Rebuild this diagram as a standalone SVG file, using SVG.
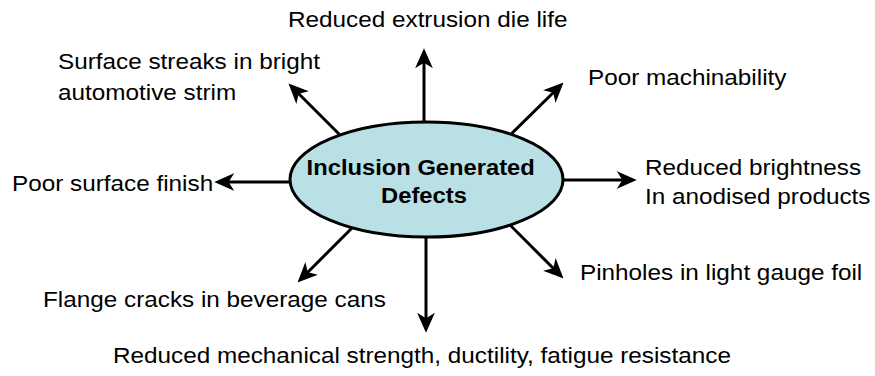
<svg xmlns="http://www.w3.org/2000/svg" width="875" height="376" viewBox="0 0 875 376">
  <style>
    .lbl { font-family: "Liberation Sans", Arial, sans-serif; font-size: 22.5px; fill: #000; }
    .core { font-family: "Liberation Sans", Arial, sans-serif; font-size: 22px; font-weight: bold; fill: #000; text-anchor: middle; }
    .edge { stroke: #000; stroke-width: 3; fill: none; marker-end: url(#head); }
    .hub { fill: #b9e0e5; stroke: #000; stroke-width: 3; }
  </style>
  <defs>
    <marker id="head" markerUnits="userSpaceOnUse" markerWidth="20" markerHeight="18" viewBox="0 0 18 16" refX="11" refY="8" orient="auto">
      <path d="M0,0 L18,8 L0,16 L5,8 z" fill="#000"/>
    </marker>
  </defs>

  <!-- connectors radiating from the central ellipse -->
  <g id="connectors">
    <line class="edge" x1="424" y1="150" x2="424" y2="56"/>
    <line class="edge" x1="426" y1="210" x2="426" y2="325"/>
    <line class="edge" x1="310" y1="182" x2="222" y2="182"/>
    <line class="edge" x1="540" y1="180" x2="629" y2="180"/>
    <line class="edge" x1="500" y1="145" x2="558" y2="88"/>
    <line class="edge" x1="352" y1="147" x2="294" y2="89"/>
    <line class="edge" x1="360" y1="220" x2="303" y2="277"/>
    <line class="edge" x1="500" y1="215" x2="558" y2="273"/>
  </g>

  <g id="hub">
    <ellipse class="hub" cx="426.5" cy="179.5" rx="136.5" ry="57.5"/>
    <text class="core" transform="translate(424,175) scale(1.08,1)">
      <tspan x="0" y="0">Inclusion Generated</tspan>
      <tspan x="0" y="28">Defects</tspan>
    </text>
  </g>

  <g id="die-life">
    <text class="lbl" transform="translate(288,27) scale(1.08,1)">Reduced extrusion die life</text>
  </g>
  <g id="surface-streaks">
    <text class="lbl" transform="translate(58,69) scale(1.08,1)">
      <tspan x="0" y="0">Surface streaks in bright</tspan>
      <tspan x="0" y="31">automotive strim</tspan>
    </text>
  </g>
  <g id="machinability">
    <text class="lbl" transform="translate(588,85) scale(1.08,1)">Poor machinability</text>
  </g>
  <g id="brightness">
    <text class="lbl" transform="translate(645,175) scale(1.08,1)">
      <tspan x="0" y="0">Reduced brightness</tspan>
      <tspan x="0" y="29">In anodised products</tspan>
    </text>
  </g>
  <g id="surface-finish">
    <text class="lbl" transform="translate(12,191) scale(1.08,1)">Poor surface finish</text>
  </g>
  <g id="pinholes">
    <text class="lbl" transform="translate(580,280) scale(1.08,1)">Pinholes in light gauge foil</text>
  </g>
  <g id="flange-cracks">
    <text class="lbl" transform="translate(43,307) scale(1.08,1)">Flange cracks in beverage cans</text>
  </g>
  <g id="strength">
    <text class="lbl" transform="translate(113,363) scale(1.08,1)">Reduced mechanical strength, ductility, fatigue resistance</text>
  </g>
</svg>
